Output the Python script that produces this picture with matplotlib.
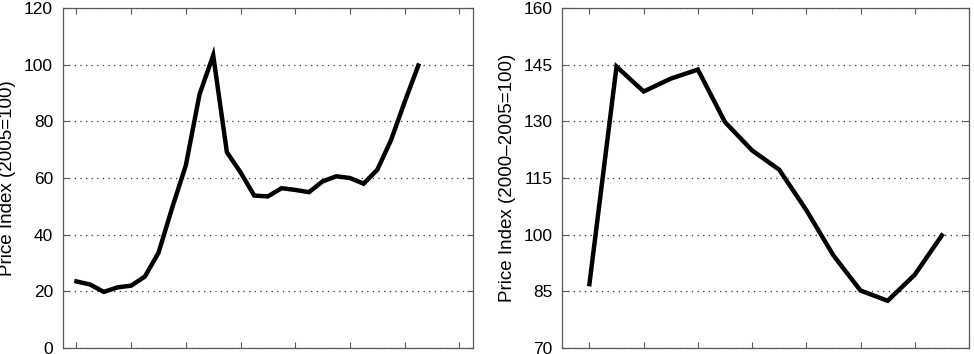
import matplotlib
matplotlib.use("Agg")
import matplotlib.pyplot as plt

plt.rcParams['font.family'] = ['Liberation Sans', 'DejaVu Sans']

# Left panel: price index (2005=100)
years_left = list(range(1980, 2006))
index_left = [23.5, 22.4, 19.8, 21.4, 22.0, 25.2, 33.6, 49.5, 64.5, 89.5, 103.3,
              69.1, 62.0, 53.8, 53.5, 56.4, 55.8, 55.0, 58.8, 60.6, 60.0, 58.0,
              62.9, 73.3, 86.8, 99.7]
left_yticks = [0, 20, 40, 60, 80, 100, 120]
left_xticks = list(range(1980, 2009, 4))
left_label = "Price Index (2005=100)"

# Right panel: price index (2000-2005=100)
years_right = list(range(1992, 2006))
index_right = [86.9, 144.5, 137.9, 141.3, 143.7, 129.8, 122.3, 117.2, 106.5,
               94.5, 85.2, 82.5, 89.4, 99.8]
right_yticks = [70, 85, 100, 115, 130, 145, 160]
right_xticks = list(range(1992, 2007, 2))
right_label = "Price Index (2000\u20132005=100)"

W, H = 974, 354
fig = plt.figure(figsize=(W / 100, H / 100), dpi=100)

def style(ax, xlim, yticks, xticks, label, labelx):
    ax.set_xlim(*xlim)
    ax.set_ylim(yticks[0], yticks[-1])
    ax.set_yticks(yticks)
    ax.set_xticks(xticks)
    ax.set_xticklabels([])
    ax.tick_params(direction='in', top=True, right=True, length=4,
                   width=0.8, color='0.35', labelsize=12.5, pad=7)
    for s in ax.spines.values():
        s.set_color('0.35')
        s.set_linewidth(0.9)
    ax.yaxis.grid(True, linestyle=(0, (1, 3.5)), color='0.2', linewidth=0.9)
    ax.set_axisbelow(True)
    ax.set_ylabel(label, fontsize=13.5)
    ax.yaxis.set_label_coords(labelx, 0.5)

ax1 = fig.add_axes([62.8 / W, 6 / H, (473 - 62.8) / W, 340 / H])
ax1.plot(years_left, index_left, color='black', linewidth=3.2,
         solid_joinstyle='miter')
style(ax1, (1979, 2009), left_yticks, left_xticks, left_label,
      (15.5 - 62.8) / (473 - 62.8))

ax2 = fig.add_axes([562.3 / W, 6 / H, (969 - 562.3) / W, 340 / H])
ax2.plot(years_right, index_right, color='black', linewidth=3.2,
         solid_joinstyle='miter')
style(ax2, (1991, 2006), right_yticks, right_xticks, right_label,
      (515.5 - 562.3) / (969 - 562.3))

fig.savefig("out.png", dpi=100)
